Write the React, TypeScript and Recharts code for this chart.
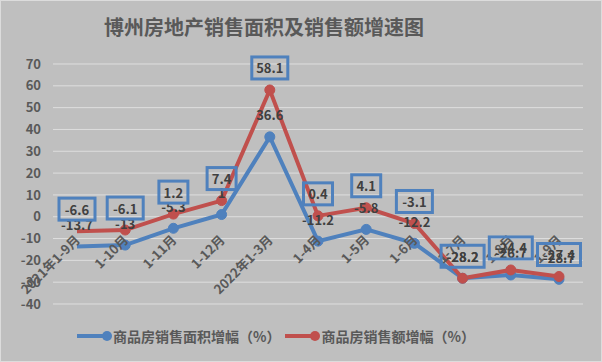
import { LineChart, Line, XAxis, YAxis, CartesianGrid, LabelList } from "recharts";

// 分类与数据
const categories = [
  "2021年1-9月",
  "1-10月",
  "1-11月",
  "1-12月",
  "2022年1-3月",
  "1-4月",
  "1-5月",
  "1-6月",
  "1-7月",
  "1-8月",
  "1-9月",
];
const areaGrowth = [-13.7, -13, -5.3, 1, 36.6, -11.2, -5.8, -12.2, -28.2, -26.7, -28.7];
const amountGrowth = [-6.6, -6.1, 1.2, 7.4, 58.1, 0.4, 4.1, -3.1, -28.2, -24.4, -27.4];
const yTicks = [-40, -30, -20, -10, 0, 10, 20, 30, 40, 50, 60, 70];

const seriesNames = ["商品房销售面积增幅（%）", "商品房销售额增幅（%）"];
const title = "博州房地产销售面积及销售额增速图";

const data = categories.map((c, i) => ({
  cat: c,
  area: areaGrowth[i],
  amount: amountGrowth[i],
}));

const BLUE = "#4F81BD";
const RED = "#C0504D";
const BG = "#bfbfbf";
const TEXT = "#595959";
const FONT = '"Noto Sans CJK SC", "Noto Sans", sans-serif';

const W = 602;
const H = 362;
const X_AXIS_H = 30;
const margin = { top: 64, right: 19, bottom: 28, left: 0 };
const Y_MIN = -40;
const Y_MAX = 70;
// 横轴标签贴着 0 线
const plotH = H - margin.top - margin.bottom - X_AXIS_H;
const zeroY = margin.top + (Y_MAX / (Y_MAX - Y_MIN)) * plotH;

const XTick = (props: any) => {
  const { x, payload } = props;
  const px = x + 4;
  const py = zeroY + 24;
  return (
    <text
      x={px}
      y={py}
      textAnchor="end"
      transform={`rotate(-45, ${px}, ${py})`}
      fill={TEXT}
      fontSize={13}
      fontWeight="bold"
      fontFamily={FONT}
    >
      {payload.value}
    </text>
  );
};

const makeDot = (color: string) => (p: any) =>
  p.index === 0 ? (
    <g key={`d${p.index}`} />
  ) : (
    <circle key={`d${p.index}`} cx={p.cx} cy={p.cy} r={5} fill={color} stroke={color} />
  );

const PlainLabel = (p: any) => (
  <text
    x={p.x}
    y={p.y - 22}
    textAnchor="middle"
    dominantBaseline="central"
    fill="#404040"
    fontSize={13}
    fontWeight="bold"
    fontFamily={FONT}
  >
    {p.value}
  </text>
);

const BoxLabel = (p: any) => {
  const s = String(p.value);
  const w = s.length * 7 + 11;
  const cy = p.y - 22;
  return (
    <g>
      <rect
        x={p.x - w / 2 + 1.5}
        y={cy - 11}
        width={w - 3}
        height={22}
        fill="none"
        stroke={BLUE}
        strokeWidth={3}
      />
      <text
        x={p.x}
        y={cy}
        textAnchor="middle"
        dominantBaseline="central"
        fill="#404040"
        fontSize={13}
        fontWeight="bold"
        fontFamily={FONT}
      >
        {s}
      </text>
    </g>
  );
};

const LegendItem = ({ color, name }: { color: string; name: string }) => (
  <div style={{ display: "flex", alignItems: "center", marginRight: 5 }}>
    <svg width={36} height={14}>
      <line x1={0} y1={7} x2={30} y2={7} stroke={color} strokeWidth={4} />
      <circle cx={30} cy={7} r={5} fill={color} />
    </svg>
    <span style={{ fontSize: 14, fontWeight: "bold", color: TEXT }}>{name}</span>
  </div>
);

export default function App() {
  return (
    <div
      style={{
        position: "absolute",
        left: 0,
        top: 0,
        width: W,
        height: H,
        background: BG,
        boxShadow: "inset 0 0 0 1px #dcdcdc",
        fontFamily: FONT,
      }}
    >
      <div
        style={{
          position: "absolute",
          left: 0,
          top: 12,
          width: 528,
          textAlign: "center",
          fontSize: 20,
          fontWeight: "bold",
          color: TEXT,
          lineHeight: "30px",
        }}
      >
        {title}
      </div>
      <LineChart width={W} height={H} data={data} margin={margin}>
        <CartesianGrid horizontal vertical={false} stroke="#dedede" strokeWidth={1} />
        <XAxis
          dataKey="cat"
          height={X_AXIS_H}
          axisLine={false}
          tickLine={false}
          interval={0}
          padding={{ left: 24, right: 24 }}
          tick={<XTick />}
        />
        <YAxis
          width={53}
          domain={[Y_MIN, Y_MAX]}
          ticks={yTicks}
          interval={0}
          axisLine={false}
          tickLine={false}
          tickSize={0}
          tickMargin={12}
          tick={{ fill: TEXT, fontSize: 13, fontWeight: "bold", fontFamily: FONT }}
        />
        <Line
          type="linear"
          dataKey="area"
          stroke={BLUE}
          strokeWidth={4}
          dot={makeDot(BLUE)}
          activeDot={false}
          isAnimationActive={false}
        >
          <LabelList dataKey="area" content={PlainLabel} />
        </Line>
        <Line
          type="linear"
          dataKey="amount"
          stroke={RED}
          strokeWidth={4}
          dot={makeDot(RED)}
          activeDot={false}
          isAnimationActive={false}
        >
          <LabelList dataKey="amount" content={BoxLabel} />
        </Line>
      </LineChart>
      <div
        style={{
          position: "absolute",
          left: 77,
          top: 326,
          display: "flex",
          alignItems: "center",
        }}
      >
        <LegendItem color={BLUE} name={seriesNames[0]} />
        <LegendItem color={RED} name={seriesNames[1]} />
      </div>
    </div>
  );
}
